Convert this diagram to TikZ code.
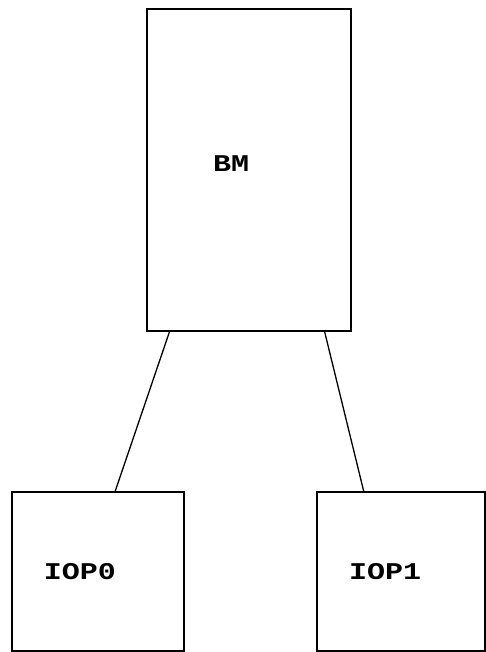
\documentclass[tikz,border=0pt]{standalone}
\usepackage{fontspec}
\newfontfamily\plotfont[FakeStretch=1.25]{Liberation Mono}
\usetikzlibrary{calc}

\begin{document}
\begin{tikzpicture}[x=1pt,y=-1pt,font=\plotfont\bfseries\fontsize{24}{24}\selectfont,
  unit/.style={draw,line width=1.5pt,inner sep=0pt},
  lbl/.style={inner sep=0pt},
  link/.style={line width=1.3pt}]
\useasboundingbox (0,0) rectangle (485,652);
\node[unit,minimum width=204pt,minimum height=322pt] (bm) at (249,170) {};
\node[unit,minimum width=172pt,minimum height=159pt] (iop0) at (98,571.5) {};
\node[unit,minimum width=168pt,minimum height=159pt] (iop1) at (401,571.5) {};
\node[lbl] (bmtext) at (231,164) {BM};
\node[lbl] (iop0text) at (80,572) {IOP0};
\node[lbl] (iop1text) at (385,572) {IOP1};
\draw[link] ($(bm.south west)!0.113!(bm.south east)$) -- ($(iop0.north west)!0.599!(iop0.north east)$);
\draw[link] ($(bm.south west)!0.868!(bm.south east)$) -- ($(iop1.north west)!0.28!(iop1.north east)$);
\end{tikzpicture}
\end{document}
